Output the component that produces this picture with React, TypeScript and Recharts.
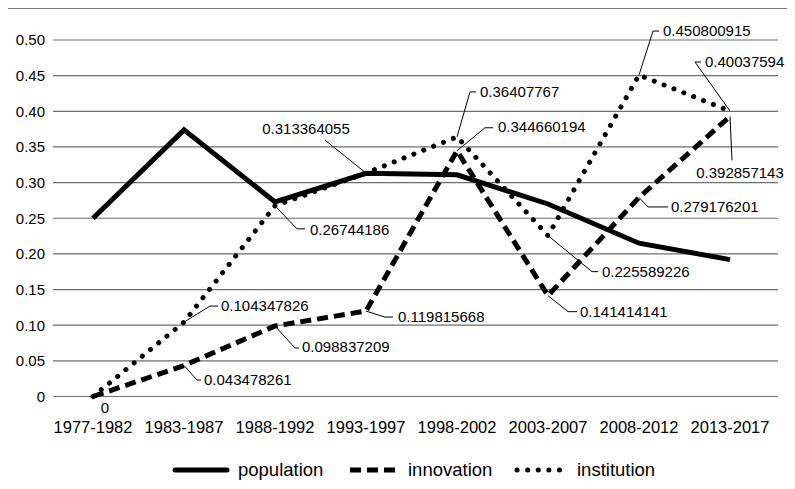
import React from 'react';
import { LineChart, Line, XAxis, YAxis, CartesianGrid, Legend, LabelList } from 'recharts';

const periods = ['1977-1982', '1983-1987', '1988-1992', '1993-1997', '1998-2002', '2003-2007', '2008-2012', '2013-2017'];
const population = [0.25, 0.374, 0.273, 0.313, 0.311, 0.27, 0.215, 0.192];
const innovation = [0, 0.043478261, 0.098837209, 0.119815668, 0.344660194, 0.141414141, 0.279176201, 0.392857143];
const institution = [0, 0.104347826, 0.26744186, 0.313364055, 0.36407767, 0.225589226, 0.450800915, 0.40037594];
const yTicks = [0, 0.05, 0.1, 0.15, 0.2, 0.25, 0.3, 0.35, 0.4, 0.45, 0.5];
const seriesNames = ['population', 'innovation', 'institution'];

const data = periods.map((p, i) => ({
  period: p,
  population: population[i],
  innovation: innovation[i],
  institution: institution[i],
}));

type Callout = {
  elbow?: [number, number];
  end?: number;
  text: [number, number];
  anchor?: 'start' | 'middle' | 'end';
  hide?: boolean;
};

const institutionCallouts: Callout[] = [
  { text: [12, 11.5], anchor: 'middle' },
  { elbow: [26, -16], end: 34, text: [37, -16] },
  { elbow: [22, 23], end: 30, text: [35, 24] },
  { elbow: [-41, -33], text: [-60, -44], anchor: 'middle' },
  { elbow: [13, -45], end: 19, text: [23, -45] },
  { elbow: [44, 36], end: 50, text: [54, 36] },
  { elbow: [14, -44], end: 20, text: [24, -44] },
  { elbow: [-35, -49], end: -29, text: [-25, -49] },
];

const innovationCallouts: Callout[] = [
  { text: [0, 0], hide: true },
  { elbow: [13, 14.5], end: 17, text: [20, 14.5] },
  { elbow: [20, 22], end: 24, text: [27, 21] },
  { elbow: [19, 6], end: 27, text: [32, 6] },
  { elbow: [28, -23], end: 36, text: [41, -24] },
  { elbow: [20, 16], end: 29, text: [32, 16] },
  { elbow: [9, 9.5], end: 29, text: [32, 9.6] },
  { elbow: [2, 44], text: [10, 56.6], anchor: 'middle' },
];

const FONT = '"Liberation Sans", Arial, Helvetica, sans-serif';
const LEGEND_TOP = 455;

const makeCallout = (callouts: Callout[]) => (props: any) => {
  const { x, y, value, index } = props;
  const c = callouts[index];
  if (!c || c.hide) return null;
  const px = Number(x);
  const py = Number(y);
  let path: React.ReactNode = null;
  if (c.elbow) {
    const ex = px + c.elbow[0];
    const ey = py + c.elbow[1];
    let d = `M${px},${py}L${ex},${ey}`;
    if (c.end !== undefined) d += `L${px + c.end},${ey}`;
    path = <path d={d} stroke="#000" strokeWidth={1} fill="none" />;
  }
  return (
    <g key={`cl-${index}`}>
      {path}
      <text
        x={px + c.text[0]}
        y={py + c.text[1]}
        dy="0.35em"
        textAnchor={c.anchor || 'start'}
        fontSize={15}
        fontFamily={FONT}
        fill="#000"
      >
        {String(value)}
      </text>
    </g>
  );
};

// Legend content: an svg covering the whole chart area (overflowing its 30px wrapper),
// which also draws the frame border of the figure.
const renderLegend = () => (
  <div style={{ position: 'relative', width: 795, height: 30 }}>
    <svg
      width={795}
      height={489}
      style={{ position: 'absolute', left: 0, top: -LEGEND_TOP, overflow: 'visible', pointerEvents: 'none' }}
    >
      <path d="M6,489 L6,8 L795,8" fill="none" stroke="#7a7a7a" strokeWidth={2} />
      <g transform={`translate(0,${LEGEND_TOP})`}>
        <line x1={175} x2={227} y1={15} y2={15} stroke="#000" strokeWidth={5} strokeLinecap="round" />
        <text x={238} y={15} dy="0.35em" fontSize={18.5} fontFamily={FONT} fill="#000">{seriesNames[0]}</text>
        <line x1={350} x2={401} y1={15} y2={15} stroke="#000" strokeWidth={5} strokeDasharray="11 6" />
        <text x={408} y={15} dy="0.35em" fontSize={18.5} fontFamily={FONT} fill="#000">{seriesNames[1]}</text>
        <line x1={517} x2={567} y1={15} y2={15} stroke="#000" strokeWidth={5} strokeDasharray="0.1 10.5" strokeLinecap="round" />
        <text x={577} y={15} dy="0.35em" fontSize={18.5} fontFamily={FONT} fill="#000">{seriesNames[2]}</text>
      </g>
    </svg>
  </div>
);

export default function App() {
  return (
    <div style={{ position: 'relative', width: 795, height: 489, marginLeft: -8, marginTop: -8, background: '#fff', fontFamily: FONT }}>
      <LineChart width={795} height={489} data={data} margin={{ top: 40, right: 17, bottom: 22.5, left: 0 }}>
        <CartesianGrid vertical={false} stroke="#6e6e6e" strokeWidth={1.2} />
        <XAxis
          dataKey="period"
          padding={{ left: 40, right: 48 }}
          tickLine={false}
          axisLine={false}
          tickMargin={19}
          height={40}
          interval={0}
          tick={{ fontSize: 16.5, fill: '#000', fontFamily: FONT }}
        />
        <YAxis
          width={53}
          domain={[0, 0.5]}
          ticks={yTicks}
          type="number"
          tickLine={false}
          axisLine={false}
          tickSize={6}
          tickMargin={2}
          tickFormatter={(v: number) => (v === 0 ? '0' : v.toFixed(2))}
          tick={{ fontSize: 15, fill: '#000', fontFamily: FONT }}
        />
        <Legend
          verticalAlign="bottom"
          content={renderLegend}
          wrapperStyle={{ left: 0, top: LEGEND_TOP, bottom: 'auto', width: 795, height: 30, overflow: 'visible' }}
        />
        <Line
          dataKey="population"
          name={seriesNames[0]}
          stroke="#000"
          strokeWidth={5}
          dot={false}
          activeDot={false}
          isAnimationActive={false}
          type="linear"
        />
        <Line
          dataKey="innovation"
          name={seriesNames[1]}
          stroke="#000"
          strokeWidth={5}
          strokeDasharray="11 6"
          dot={false}
          activeDot={false}
          isAnimationActive={false}
          type="linear"
        >
          <LabelList dataKey="innovation" content={makeCallout(innovationCallouts)} />
        </Line>
        <Line
          dataKey="institution"
          name={seriesNames[2]}
          stroke="#000"
          strokeWidth={5}
          strokeDasharray="0.1 10.5"
          strokeLinecap="round"
          dot={false}
          activeDot={false}
          isAnimationActive={false}
          type="linear"
        >
          <LabelList dataKey="institution" content={makeCallout(institutionCallouts)} />
        </Line>
      </LineChart>
    </div>
  );
}
